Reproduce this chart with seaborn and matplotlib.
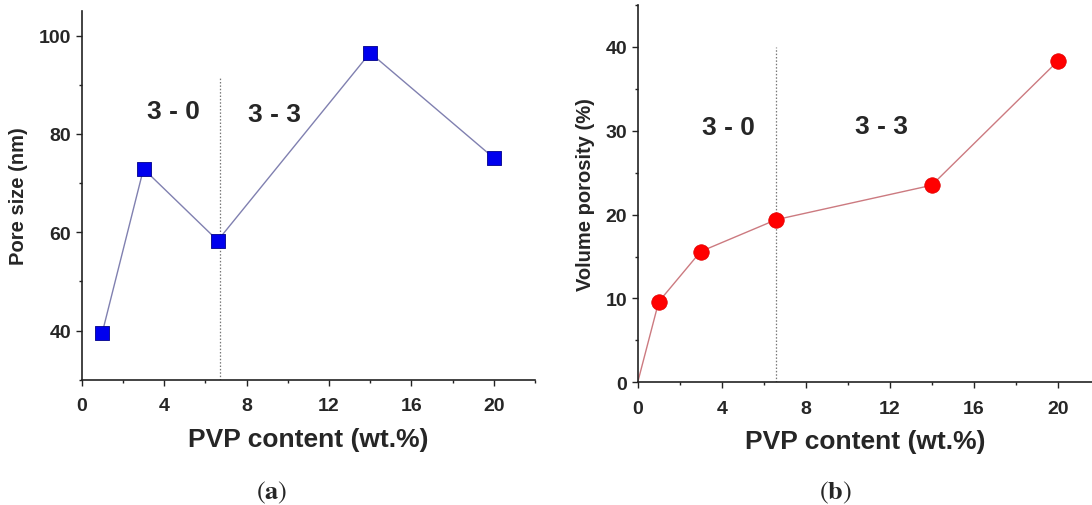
import numpy as np
import pandas as pd
import matplotlib
matplotlib.use("Agg")
import matplotlib.pyplot as plt
import seaborn as sns
from matplotlib.ticker import MultipleLocator

# ---- data ----
pvp_a = [1, 3, 6.6, 14, 20]
pore_size = [39.6, 72.9, 58.3, 96.5, 75.1]

pvp_b = [0, 1, 3, 6.6, 14, 20]
porosity = [0, 9.6, 15.6, 19.4, 23.5, 38.3]

xticks = [0, 4, 8, 12, 16, 20]
yticks_a = [40, 60, 80, 100]
yticks_b = [0, 10, 20, 30, 40]
region_labels = ["3 - 0", "3 - 3"]
boundary_a = 6.7
boundary_b = 6.6

sns.set_style("ticks")
plt.rcParams['font.family'] = ['Liberation Sans', 'DejaVu Sans']
plt.rcParams['mathtext.fontset'] = 'stix'

W, H = 1092, 506
fig = plt.figure(figsize=(W / 100, H / 100), dpi=100)

def px_axes(l, t, r, b):
    return fig.add_axes([l / W, 1 - b / H, (r - l) / W, (b - t) / H])

ax1 = px_axes(81.7, 12, 535, 380.7)
ax2 = px_axes(637.7, 6, 1092, 383.3)

df_a = pd.DataFrame({"x": pvp_a, "y": pore_size})
df_b = pd.DataFrame({"x": pvp_b, "y": porosity})

sns.lineplot(data=df_a, x="x", y="y", ax=ax1, color="#8080b0", lw=1.0, sort=False, zorder=2)
sns.scatterplot(data=df_a, x="x", y="y", ax=ax1, marker="s", s=100, color="#0000ee",
                edgecolor="#00008a", linewidth=0.6, zorder=3)

sns.lineplot(data=df_b, x="x", y="y", ax=ax2, color="#cc7a80", lw=1.0, sort=False, zorder=2)
sns.scatterplot(data=df_b.iloc[1:], x="x", y="y", ax=ax2, marker="o", s=125, color="#ff0000",
                edgecolor="#e00000", linewidth=0.5, zorder=3)

ax1.plot([boundary_a, boundary_a], [30, 91.4], ls=(0, (1.2, 1.5)), color="#777777", lw=0.9, zorder=1)
ax2.plot([boundary_b, boundary_b], [0, 40], ls=(0, (1.2, 1.5)), color="#777777", lw=0.9, zorder=1)

tk = dict(ha="center", va="center", fontsize=19, fontweight="bold")
ax1.text(4.46, 84.7, region_labels[0], **tk)
ax1.text(9.36, 84.1, region_labels[1], **tk)
ax2.text(4.3, 30.5, region_labels[0], **tk)
ax2.text(11.6, 30.6, region_labels[1], **tk)

ax1.set_xlim(0, 22)
ax1.set_ylim(30, 105)
ax2.set_xlim(0, (1092 - 637.7) / 21.0)
ax2.set_ylim(0, 45)

ax1.set_xticks(xticks)
ax1.set_yticks(yticks_a)
ax2.set_xticks(xticks)
ax2.set_yticks(yticks_b)
ax1.xaxis.set_minor_locator(MultipleLocator(2))
ax1.yaxis.set_minor_locator(MultipleLocator(10))
ax2.xaxis.set_minor_locator(MultipleLocator(2))
ax2.yaxis.set_minor_locator(MultipleLocator(5))

for ax in (ax1, ax2):
    sns.despine(ax=ax)
    for s in ("left", "bottom"):
        ax.spines[s].set_linewidth(1.2)
        ax.spines[s].set_color("#222222")
    ax.tick_params(which="major", direction="out", length=4.5, width=1.0, color="#222222",
                   labelsize=14)
    ax.tick_params(axis="x", which="major", pad=8)
    ax.tick_params(axis="y", which="major", pad=3)
    ax.tick_params(which="minor", direction="out", length=2.5, width=1.0, color="#222222")
    for lab in ax.get_xticklabels() + ax.get_yticklabels():
        lab.set_fontweight("bold")
    ax.set_xlabel("PVP content (wt.%)", fontsize=19, fontweight="bold", labelpad=9)
    ax.set_facecolor("white")

ax1.set_ylabel("Pore size (nm)", fontsize=14.5, fontweight="bold", labelpad=8)
ax2.set_ylabel("Volume porosity (%)", fontsize=14.5, fontweight="bold", labelpad=8)

fig.text(271.7 / W, 1 - 492.7 / H, r"$(\mathbf{a})$", ha="center", va="center", fontsize=19)
fig.text(835 / W, 1 - 492.7 / H, r"$(\mathbf{b})$", ha="center", va="center", fontsize=19)

fig.savefig("out.png", dpi=100, facecolor="white")
